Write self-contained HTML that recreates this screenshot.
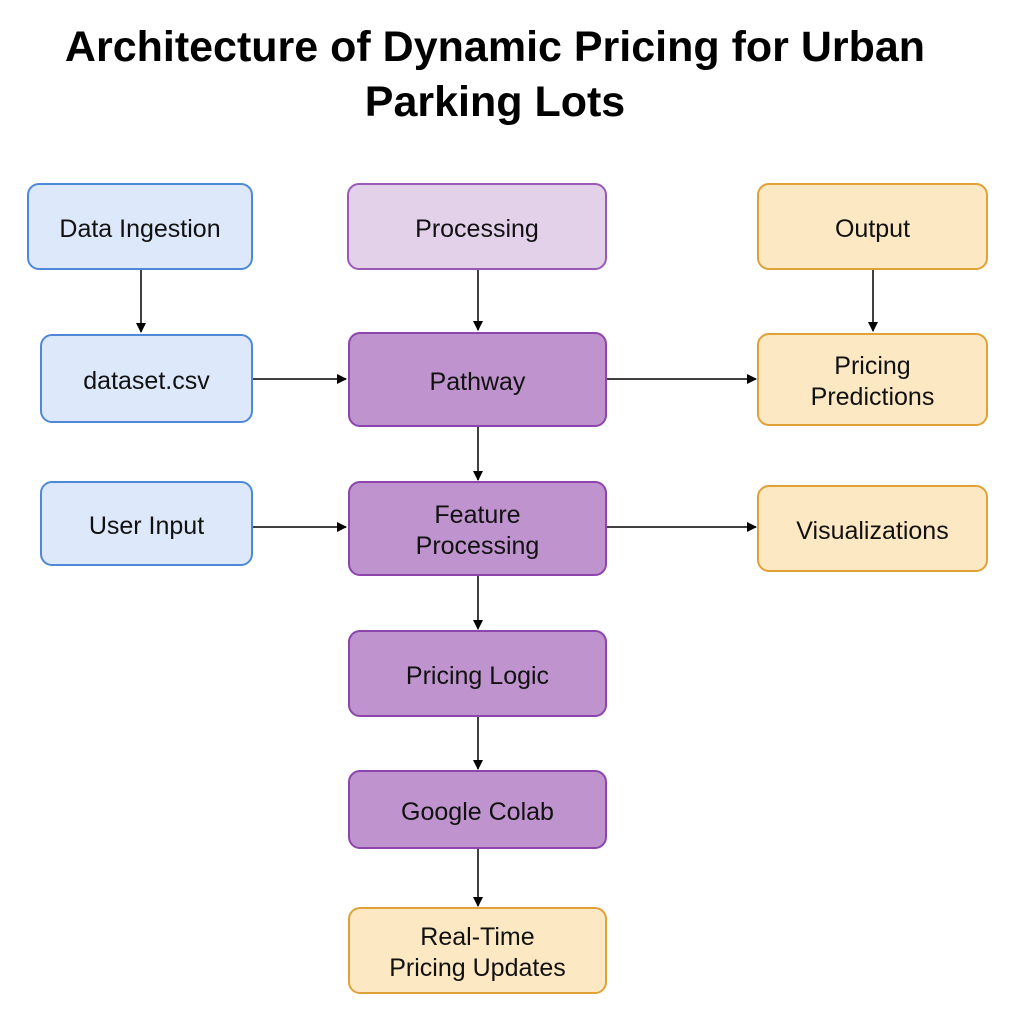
<!DOCTYPE html>
<html><head><meta charset="utf-8"><style>
body{margin:0;width:1024px;height:1024px;background:#fff;font-family:"Liberation Sans",sans-serif;position:relative;overflow:hidden}
.t{position:absolute;left:0;width:990px;text-align:center;font-weight:bold;font-size:43px;color:#000}
.b{position:absolute;box-sizing:border-box;border-radius:12px;display:flex;align-items:center;justify-content:center;text-align:center;font-size:25px;line-height:31px;color:#111;border:2px solid;padding-top:5px}
.bl{background:#dde9fb;border-color:#4f88d6}
.pl{background:#e3d1ea;border-color:#9b59b6}
.pd{background:#bf93cd;border-color:#8e44ad}
.or{background:#fde8c4;border-color:#e0a236}
svg{position:absolute;left:0;top:0}
</style></head><body>
<div class="t" style="top:23px">Architecture of Dynamic Pricing for Urban</div>
<div class="t" style="top:78px">Parking Lots</div>
<div class="b bl" style="left:27px;top:183px;width:226px;height:87px">Data Ingestion</div>
<div class="b pl" style="left:347px;top:183px;width:260px;height:87px">Processing</div>
<div class="b or" style="left:757px;top:183px;width:231px;height:87px">Output</div>
<div class="b bl" style="left:40px;top:334px;width:213px;height:89px">dataset.csv</div>
<div class="b pd" style="left:348px;top:332px;width:259px;height:95px">Pathway</div>
<div class="b or" style="left:757px;top:333px;width:231px;height:93px">Pricing<br>Predictions</div>
<div class="b bl" style="left:40px;top:481px;width:213px;height:85px">User Input</div>
<div class="b pd" style="left:348px;top:481px;width:259px;height:95px">Feature<br>Processing</div>
<div class="b or" style="left:757px;top:485px;width:231px;height:87px">Visualizations</div>
<div class="b pd" style="left:348px;top:630px;width:259px;height:87px">Pricing Logic</div>
<div class="b pd" style="left:348px;top:770px;width:259px;height:79px">Google Colab</div>
<div class="b or" style="left:348px;top:907px;width:259px;height:87px">Real-Time<br>Pricing Updates</div>
<svg width="1024" height="1024"><defs><marker id="a" markerWidth="10" markerHeight="10" refX="9" refY="5" orient="auto" markerUnits="userSpaceOnUse"><path d="M0,0 L10,5 L0,10 z" fill="#000"/></marker></defs>
<g stroke="#000" stroke-width="1.5" marker-end="url(#a)">
<line x1="141" y1="270" x2="141" y2="332"/>
<line x1="478" y1="270" x2="478" y2="330"/>
<line x1="873" y1="270" x2="873" y2="331"/>
<line x1="253" y1="379" x2="346" y2="379"/>
<line x1="607" y1="379" x2="756" y2="379"/>
<line x1="478" y1="427" x2="478" y2="480"/>
<line x1="253" y1="527" x2="346" y2="527"/>
<line x1="607" y1="527" x2="756" y2="527"/>
<line x1="478" y1="576" x2="478" y2="629"/>
<line x1="478" y1="717" x2="478" y2="769"/>
<line x1="478" y1="849" x2="478" y2="906"/>
</g></svg>
</body></html>
